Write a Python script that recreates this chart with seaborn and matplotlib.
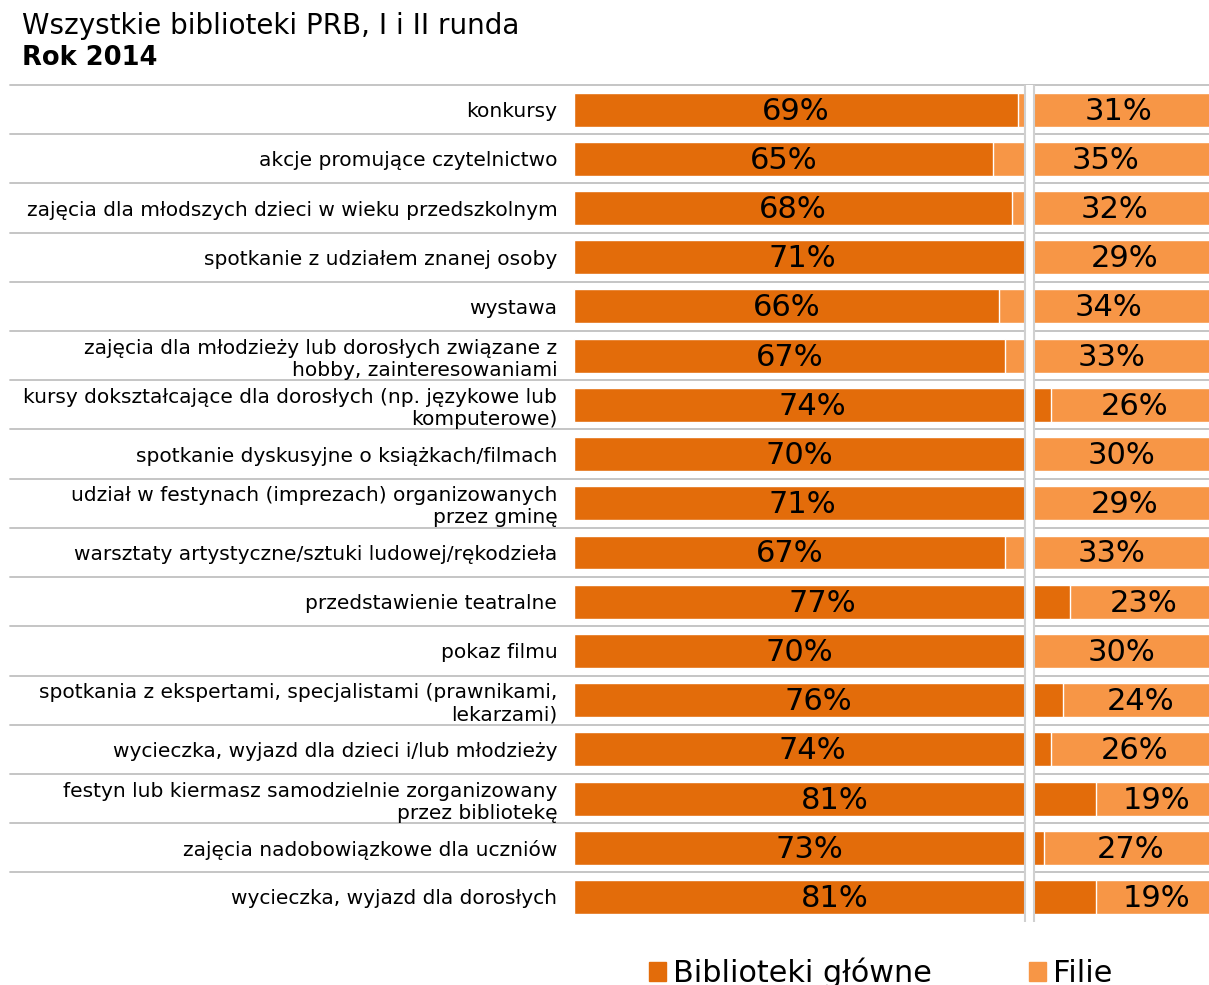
import pandas as pd
import numpy as np
import seaborn as sns
import matplotlib.pyplot as plt
from matplotlib.patches import Patch

# dane z wykresu
kategorie = [
    'konkursy',
    'akcje promujące czytelnictwo',
    'zajęcia dla młodszych dzieci w wieku przedszkolnym',
    'spotkanie z udziałem znanej osoby',
    'wystawa',
    'zajęcia dla młodzieży lub dorosłych związane z\nhobby, zainteresowaniami',
    'kursy dokształcające dla dorosłych (np. językowe lub\nkomputerowe)',
    'spotkanie dyskusyjne o książkach/filmach',
    'udział w festynach (imprezach) organizowanych\nprzez gminę',
    'warsztaty artystyczne/sztuki ludowej/rękodzieła',
    'przedstawienie teatralne',
    'pokaz filmu',
    'spotkania z ekspertami, specjalistami (prawnikami,\nlekarzami)',
    'wycieczka, wyjazd dla dzieci i/lub młodzieży',
    'festyn lub kiermasz samodzielnie zorganizowany\nprzez bibliotekę',
    'zajęcia nadobowiązkowe dla uczniów',
    'wycieczka, wyjazd dla dorosłych',
]
glowne = [69, 65, 68, 71, 66, 67, 74, 70, 71, 67, 77, 70, 76, 74, 81, 73, 81]
filie = [31, 35, 32, 29, 34, 33, 26, 30, 29, 33, 23, 30, 24, 26, 19, 27, 19]

df = pd.DataFrame({'kategoria': kategorie, 'glowne': glowne, 'filie': filie})
df['razem'] = df['glowne'] + df['filie']

c_dark = '#E36C0A'
c_light = '#F79646'

sns.set_style('white')
plt.rcParams['font.family'] = ['DejaVu Sans']
plt.rcParams['text.color'] = 'black'
plt.rcParams['ytick.color'] = 'black'
plt.rcParams['ytick.labelcolor'] = 'black'

fig = plt.figure(figsize=(12.09, 9.85), dpi=100)
ax = fig.add_axes([574 / 1209, 1 - 921.6 / 985, 644 / 1209, (921.6 - 85) / 985])

# słupki: najpierw suma (filie), potem biblioteki główne
sns.barplot(data=df, x='razem', y='kategoria', orient='h', color=c_light,
            width=0.69, saturation=1, ax=ax)
sns.barplot(data=df, x='glowne', y='kategoria', orient='h', color=c_dark,
            width=0.69, saturation=1, ax=ax)

ax.set_xlim(0, 100)
ax.set_ylim(len(df) - 0.5, -0.5)
ax.set(xlabel='', ylabel='')
ax.set_xticks([])
sns.despine(ax=ax, left=True, bottom=True)
ax.tick_params(axis='y', length=0, pad=12, labelsize=14.5, labelcolor='black')

# etykiety procentowe
for i, row in df.iterrows():
    ax.text(row['glowne'] / 2, i + 0.03, f"{row['glowne']}%", ha='center', va='center',
            fontsize=22, color='black')
    ax.text(row['glowne'] + row['filie'] / 2, i + 0.03, f"{row['filie']}%", ha='center',
            va='center', fontsize=22, color='black')

# linie oddzielające wiersze
for k in range(len(df)):
    ax.axhline(k - 0.5, xmin=(10 - 574) / 644, xmax=1, color='#c0c0c0',
               lw=1.3, clip_on=False, zorder=0)

# znacznik przerwy osi
ax.axvline(70.6, ymin=0, ymax=1.0, color='#d0d0d0', lw=8, zorder=5)
ax.axvline(70.6, ymin=0.0, ymax=1.0, color='white', lw=5, zorder=6)

# tytuł
fig.text(22 / 1209, 1 - 26 / 985, 'Wszystkie biblioteki PRB, I i II runda',
         fontsize=20, ha='left', va='center', color='black')
fig.text(22 / 1209, 1 - 58 / 985, 'Rok 2014', fontsize=18.5, fontweight='bold',
         ha='left', va='center', color='black')

# legenda
handles = [Patch(color=c_dark, label='Biblioteki główne'),
           Patch(color=c_light, label='Filie')]
fig.legend(handles=handles, loc='center', bbox_to_anchor=(881 / 1209, 1 - 973 / 985),
           ncol=2, frameon=False, fontsize=21.8, handlelength=0.55, handleheight=0.55,
           handletextpad=0.25, columnspacing=3.2, borderaxespad=0)

fig.savefig('out.png', dpi=100)
plt.close()
